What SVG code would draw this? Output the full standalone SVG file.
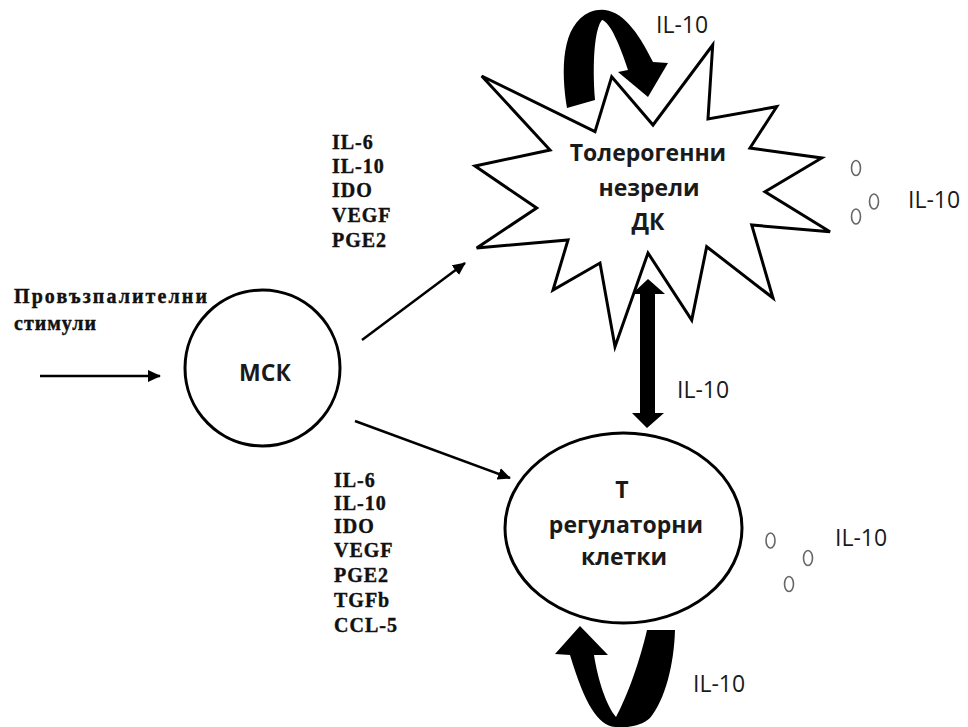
<svg xmlns="http://www.w3.org/2000/svg" width="968" height="727" viewBox="0 0 968 727">
<style>
.shape{fill:#fff;stroke:#000;stroke-width:3;stroke-linejoin:miter}
.lbl{font-family:"Open Sans","Liberation Sans",sans-serif;font-weight:700;font-size:23px;fill:#1a1a1a;text-anchor:middle}
.il{font-family:"Open Sans","Liberation Sans",sans-serif;font-size:23px;fill:#1a1a1a}
.ser{font-family:"Liberation Serif","DejaVu Serif",serif;font-weight:700;font-size:20px;fill:#111;stroke:#111;stroke-width:0.4;letter-spacing:1px}
.thin{stroke:#000;stroke-width:2.5;fill:none}
.mol{fill:none;stroke:#666;stroke-width:1.6}
.thick{fill:#000;stroke:none}
</style>
<defs>
<marker id="ah" markerUnits="userSpaceOnUse" markerWidth="14" markerHeight="12" refX="12" refY="6" orient="auto">
<path d="M0,0 L13,6 L0,12 Z" fill="#000"/>
</marker>
</defs>
<g id="connectors">
<line class="thin" x1="40" y1="376" x2="160" y2="376" marker-end="url(#ah)"/>
<line class="thin" x1="362" y1="340" x2="465" y2="263" marker-end="url(#ah)"/>
<line class="thin" x1="355" y1="421" x2="510" y2="478" marker-end="url(#ah)"/>
<polygon class="thick" points="648,279 665,294 655,294 655,413 664,413 647,428 632,413 640,413 640,294 632,294"/>
<path class="thick" d="M567,108 C561,70 561,25 590,12 C615,2 635,25 653,62 L668,63 L648,97 L618,72 L628,70 C620,45 610,22 602,20 C595,28 592,60 595,100 Z"/>
<path class="thick" d="M570,655 L555,654 L580,626 L608,655 L594,655 C598,680 606,705 616,717 C628,695 640,660 647,630 L675,630 C674,665 665,700 650,718 C640,727 625,728 615,727 C598,725 585,705 570,655 Z"/>
</g>
<g id="stimuli">
<text class="ser" x="14" y="303" textLength="194" lengthAdjust="spacing">Провъзпалителни</text>
<text class="ser" x="14" y="330">стимули</text>
</g>
<g id="msk">
<ellipse class="shape" cx="262.5" cy="368" rx="77.5" ry="78"/>
<text class="lbl" x="265" y="381">МСК</text>
</g>
<g id="dc">
<polygon class="shape" points="481.7,76 595,131.7 611.7,76.7 653,125 712.7,45 708,119 776.7,106.7 750,148 821.7,158 765,191.7 830,231.7 751.7,225 773,298 706.7,246.7 691.7,320 648,253 615,346.7 600,263 553,290 568,240 476.7,248 536.7,208 475,166 550,150"/>
<text class="lbl" x="648" y="161">Толерогенни</text>
<text class="lbl" x="649" y="196">незрели</text>
<text class="lbl" x="648" y="230">ДК</text>
</g>
<g id="treg">
<ellipse class="shape" cx="623.5" cy="528" rx="118.5" ry="95"/>
<text class="lbl" x="622" y="498">Т</text>
<text class="lbl" x="626" y="533">регулаторни</text>
<text class="lbl" x="624" y="565">клетки</text>
</g>
<g id="msk-factors-dc">
<text class="ser" x="332" y="149">IL-6</text>
<text class="ser" x="332" y="173">IL-10</text>
<text class="ser" x="332" y="197">IDO</text>
<text class="ser" x="332" y="222">VEGF</text>
<text class="ser" x="332" y="247">PGE2</text>
</g>
<g id="msk-factors-treg">
<text class="ser" x="334" y="487">IL-6</text>
<text class="ser" x="334" y="510">IL-10</text>
<text class="ser" x="334" y="533">IDO</text>
<text class="ser" x="334" y="557">VEGF</text>
<text class="ser" x="334" y="582">PGE2</text>
<text class="ser" x="334" y="607">TGFb</text>
<text class="ser" x="334" y="632">CCL-5</text>
</g>
<g id="il10-labels">
<text class="il" x="656" y="33">IL-10</text>
<text class="il" x="908" y="208">IL-10</text>
<text class="il" x="677" y="398">IL-10</text>
<text class="il" x="835" y="546">IL-10</text>
<text class="il" x="693" y="692">IL-10</text>
</g>
<g id="molecules-dc">
<ellipse class="mol" cx="856" cy="168" rx="4.5" ry="7.5"/>
<ellipse class="mol" cx="874" cy="201.5" rx="4.5" ry="7.5"/>
<ellipse class="mol" cx="856" cy="216.5" rx="4.5" ry="7.5"/>
</g>
<g id="molecules-treg">
<ellipse class="mol" cx="770.5" cy="540.5" rx="4.5" ry="7.5"/>
<ellipse class="mol" cx="808" cy="558" rx="4.5" ry="7.5"/>
<ellipse class="mol" cx="789" cy="584" rx="4.5" ry="7.5"/>
</g>
</svg>
